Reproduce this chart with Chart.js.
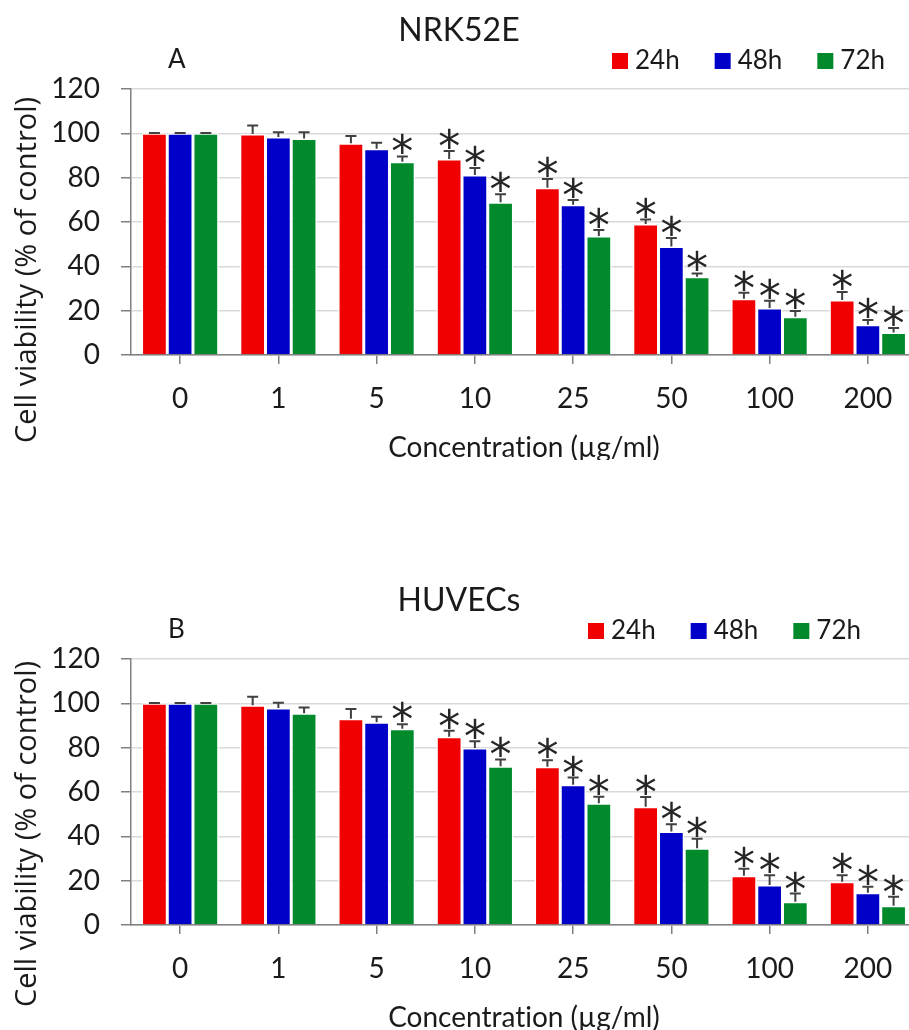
<!DOCTYPE html>
<html>
<head>
<meta charset="utf-8">
<script src="https://cdn.jsdelivr.net/npm/chart.js@4"></script>
<style>
  html, body { margin: 0; padding: 0; background: #fff; overflow: hidden; }
  body { width: 909px; height: 1030px; position: relative; }
  .panel { position: absolute; left: 0; width: 920px; height: 460px; }
</style>
</head>
<body>
<div class="panel" style="top:0"><canvas id="chartA"></canvas></div>
<div class="panel" style="top:570px"><canvas id="chartB"></canvas></div>
<script>
// concentrations (µg/ml)
const categories = ['0', '1', '5', '10', '25', '50', '100', '200'];
const seriesNames = ['24h', '48h', '72h'];
const yTicks = [0, 20, 40, 60, 80, 100, 120];

// NRK52E, mean cell viability (% of control)
const nrk24 = [100, 99.7, 95.5, 88.4, 75.5, 59.1, 25.4, 24.8];
const nrk48 = [100, 98.3, 93.1, 81.2, 67.8, 49.0, 21.2, 13.7];
const nrk72 = [100, 97.7, 87.2, 68.9, 53.7, 35.3, 17.3, 10.1];
// upper error (SD)
const nrk24Err = [0.2, 3.8, 3.3, 3.6, 3.9, 2.0, 2.7, 3.6];
const nrk48Err = [0.2, 2.2, 2.7, 3.2, 2.1, 3.8, 3.3, 2.1];
const nrk72Err = [0.2, 2.8, 2.4, 3.6, 2.7, 1.5, 2.5, 2.1];

// HUVECs
const huv24 = [100, 99.1, 93.1, 84.9, 71.4, 53.4, 22.2, 19.5];
const huv48 = [100, 97.9, 91.5, 79.8, 63.3, 42.2, 18.1, 14.5];
const huv72 = [100, 95.5, 88.5, 71.6, 54.9, 34.6, 10.5, 8.7];
const huv24Err = [0.2, 3.9, 4.4, 2.7, 2.9, 4.4, 3.2, 3.0];
const huv48Err = [0.2, 2.4, 2.5, 3.1, 3.2, 3.3, 4.4, 2.7];
const huv72Err = [0.2, 2.6, 2.1, 3.1, 3.0, 4.3, 3.7, 4.0];

// significance marks (1 = *)
const star24 = [0, 0, 0, 1, 1, 1, 1, 1];
const star48 = [0, 0, 0, 1, 1, 1, 1, 1];
const star72 = [0, 0, 1, 1, 1, 1, 1, 1];

const colors = ['#f00000', '#0000c8', '#008a2c'];
const axisGray = '#808080';
const textColor = '#1a1a1a';

// error bars + asterisks + panel title/letter/legend/y title
const panelDecor = {
  id: 'panelDecor',
  afterDatasetsDraw(chart, args, opts) {
    const ctx = chart.ctx;
    const y = chart.scales.y;
    ctx.save();
    chart.data.datasets.forEach((ds, di) => {
      const meta = chart.getDatasetMeta(di);
      meta.data.forEach((bar, i) => {
        const top = y.getPixelForValue(ds.data[i] + ds.err[i]);
        const base = y.getPixelForValue(ds.data[i]);
        ctx.strokeStyle = '#404040';
        ctx.lineWidth = 2;
        ctx.beginPath();
        ctx.moveTo(bar.x, base);
        ctx.lineTo(bar.x, top);
        ctx.moveTo(bar.x - 5.5, top);
        ctx.lineTo(bar.x + 5.5, top);
        ctx.stroke();
        if (ds.stars[i]) {
          ctx.font = '44px "DejaVu Sans"';
          ctx.fillStyle = '#262626';
          ctx.textAlign = 'center';
          ctx.textBaseline = 'alphabetic';
          const m = ctx.measureText('*');
          ctx.fillText('*', bar.x, top - 2 - m.actualBoundingBoxDescent);
        }
      });
    });
    ctx.restore();
  },
  afterDraw(chart, args, opts) {
    const ctx = chart.ctx;
    ctx.save();
    ctx.fillStyle = textColor;
    ctx.textBaseline = 'middle';
    // title
    ctx.font = '32px Lato';
    ctx.textAlign = 'center';
    ctx.fillText(opts.title, 459, 31);
    // panel letter
    ctx.font = '26px Lato';
    ctx.textAlign = 'left';
    ctx.fillText(opts.letter, 168, 60);
    // legend
    let x = opts.legendX;
    ctx.font = '26px Lato';
    chart.data.datasets.forEach(ds => {
      ctx.fillStyle = ds.backgroundColor;
      ctx.fillRect(x, 53, 16, 16);
      ctx.fillStyle = textColor;
      ctx.fillText(ds.label, x + 23, 61);
      x += 23 + ctx.measureText(ds.label).width + 35;
    });
    // y axis title
    ctx.translate(28, opts.yTitleY);
    ctx.rotate(-Math.PI / 2);
    ctx.textAlign = 'center';
    ctx.font = '29px "Open Sans"';
    ctx.fillStyle = textColor;
    ctx.fillText('Cell viability (% of control)', 0, 0);
    ctx.restore();
  }
};

function makePanel(id, title, letter, legendX, yTitleY, v24, v48, v72, e24, e48, e72) {
  const series = [[v24, e24, star24], [v48, e48, star48], [v72, e72, star72]];
  new Chart(document.getElementById(id), {
    type: 'bar',
    data: {
      labels: categories,
      datasets: series.map((s, k) => ({
        label: seriesNames[k],
        data: s[0],
        err: s[1],
        stars: s[2],
        backgroundColor: colors[k],
        borderColor: '#ffffff',
        borderWidth: 1.5,
        borderSkipped: 'bottom',
        barPercentage: 1.0,
        categoryPercentage: 0.785
      }))
    },
    options: {
      responsive: false,
      animation: false,
      devicePixelRatio: 1,
      layout: { padding: { top: 89, right: 3, left: 0, bottom: 0 } },
      plugins: {
        legend: { display: false },
        tooltip: { enabled: false },
        panelDecor: { title: title, letter: letter, legendX: legendX, yTitleY: yTitleY }
      },
      scales: {
        x: {
          afterFit: s => { s.height = 105; },
          grid: { display: true, drawOnChartArea: false, offset: false, tickLength: 9, color: axisGray, lineWidth: 1.5 },
          border: { color: axisGray, width: 1.5 },
          ticks: { font: { family: 'Lato', size: 28 }, color: textColor, padding: 18 },
          title: {
            display: true,
            // ZWNJ keeps Lato from joining "ti" into a ligature
            text: 'Concentrat\u200Cion (µg/ml)',
            font: { family: 'Lato', size: 28, lineHeight: 0.8 },
            color: textColor,
            padding: { top: 0, bottom: 1 }
          }
        },
        y: {
          min: 0,
          max: 120,
          afterFit: s => { s.width = 131; },
          afterBuildTicks: s => { s.ticks = yTicks.map(v => ({ value: v })); },
          grid: { color: '#d9d9d9', lineWidth: 1.5, tickColor: axisGray, tickLength: 10 },
          border: { color: axisGray, width: 1.5 },
          ticks: { font: { family: 'Lato', size: 28 }, color: textColor, padding: 21 }
        }
      }
    },
    plugins: [panelDecor]
  });
}

document.querySelectorAll('canvas').forEach(c => { c.width = 920; c.height = 460; });
makePanel('chartA', 'NRK52E', 'A', 612, 270, nrk24, nrk48, nrk72, nrk24Err, nrk48Err, nrk72Err);
makePanel('chartB', 'HUVECs', 'B', 588, 264, huv24, huv48, huv72, huv24Err, huv48Err, huv72Err);
</script>
</body>
</html>
